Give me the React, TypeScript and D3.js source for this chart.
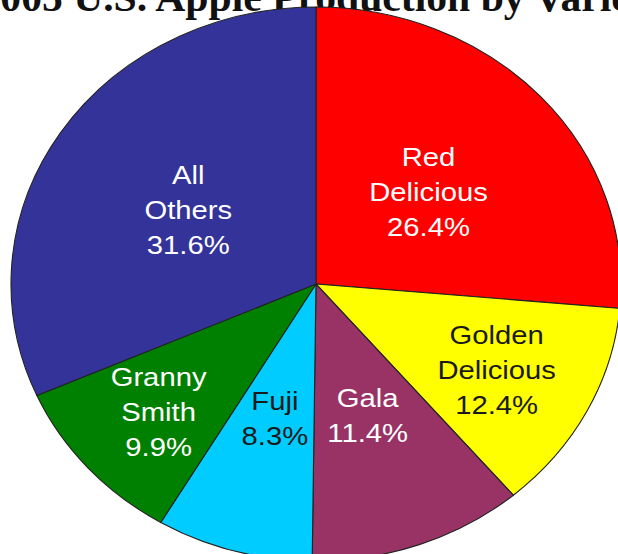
import { useEffect, useRef } from 'react';
import * as d3 from 'd3';

// 2005 U.S. apple production share by variety (clockwise from 12 o'clock)
const VARIETIES = ['Red Delicious', 'Golden Delicious', 'Gala', 'Fuji', 'Granny Smith', 'All Others'];
const SHARES = [26.4, 12.4, 11.4, 8.3, 9.9, 31.6];
const LABEL_LINES = [
  ['Red', 'Delicious'],
  ['Golden', 'Delicious'],
  ['Gala'],
  ['Fuji'],
  ['Granny', 'Smith'],
  ['All', 'Others'],
];

const COLOURS = ['#ff0000', '#ffff00', '#993366', '#00ccff', '#008000', '#333399'];
const TEXT_COLOURS = ['#ffffff', '#1a1a1a', '#ffffff', '#1a1a1a', '#ffffff', '#ffffff'];
// how far out (fraction of radius) each label block sits
const LABEL_RADIUS = [0.5, 0.667, 0.5, 0.5, 0.69, 0.5];

const W = 618;
const H = 554;
const CX = 316;
const CY = 284;
const RX = 305;
const RY = 277;
const TITLE = '2005 U.S. Apple Production by Variety';

export default function App() {
  const svgRef = useRef<SVGSVGElement>(null);

  useEffect(() => {
    if (!svgRef.current) return;
    const svg = d3.select(svgRef.current);
    svg.selectAll('*').remove();

    const sx = RX / RY;
    const data = VARIETIES.map((name, i) => ({ name, value: SHARES[i], i }));
    const pie = d3.pie<(typeof data)[number]>().value((d) => d.value).sort(null);
    const arcs = pie(data);
    const arc = d3.arc<d3.PieArcDatum<(typeof data)[number]>>().innerRadius(0).outerRadius(RY);

    // title, mostly cropped off the top of the frame
    svg.append('text')
      .attr('x', 322)
      .attr('y', 11)
      .attr('text-anchor', 'middle')
      .attr('font-family', '"Liberation Serif", "Times New Roman", serif')
      .attr('font-weight', 'bold')
      .attr('font-size', 40)
      .attr('textLength', 685)
      .attr('lengthAdjust', 'spacingAndGlyphs')
      .attr('fill', '#111')
      .text(TITLE);

    // slices (pie is squashed into an ellipse like the original image)
    const g = svg.append('g').attr('transform', `translate(${CX},${CY}) scale(${sx},1)`);
    g.selectAll('path')
      .data(arcs)
      .join('path')
      .attr('d', arc)
      .attr('fill', (d) => COLOURS[d.data.i])
      .attr('stroke', '#222')
      .attr('stroke-width', 1.1)
      .attr('vector-effect', 'non-scaling-stroke');

    // labels
    const lineH = 35;
    arcs.forEach((a) => {
      const i = a.data.i;
      const r = RY * LABEL_RADIUS[i];
      const [lx, ly] = d3.arc<d3.PieArcDatum<(typeof data)[number]>>().innerRadius(r).outerRadius(r).centroid(a);
      const lines = [...LABEL_LINES[i], `${a.data.value.toFixed(1)}%`];
      const x = CX + lx * sx;
      const y0 = CY + ly - ((lines.length - 1) / 2) * lineH + 10.5;
      lines.forEach((t, k) => {
        svg.append('text')
          .attr('transform', `translate(${x},${y0 + k * lineH}) scale(1.17,1)`)
          .attr('text-anchor', 'middle')
          .attr('font-family', '"Liberation Sans", Arial, sans-serif')
          .attr('font-size', 25)
          .attr('fill', TEXT_COLOURS[i])
          .text(t);
      });
    });
  }, []);

  return (
    <svg
      ref={svgRef}
      width={W}
      height={H}
      style={{ position: 'absolute', left: 0, top: 0, background: '#fff' }}
    />
  );
}
